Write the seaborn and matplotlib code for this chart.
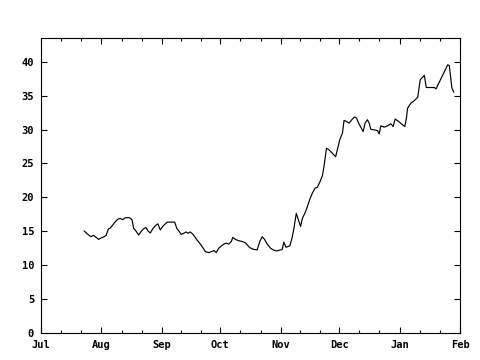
import numpy as np
import pandas as pd
import matplotlib
matplotlib.use("Agg")
import matplotlib.pyplot as plt
import seaborn as sns

# days since Jul 1 and values
days = [22.1, 23.8, 25.6, 26.9, 28.3, 29.5, 30.7, 32.4, 33.4, 34.6, 35.5, 36.7,
        38.1, 39.5, 40.6, 42.0, 43.2, 45.4, 46.7, 47.5, 48.7, 50.1, 51.3, 52.6,
        53.9, 54.9, 56.1, 57.3, 58.6, 60.0, 61.2, 62.4, 63.8, 64.7, 68.6, 69.8,
        70.6, 71.9, 73.2, 74.4, 75.5, 76.6, 77.8, 78.9, 80.1, 81.8, 83.2, 84.4,
        86.1, 87.4, 88.8, 89.9, 91.2, 92.6, 93.8, 95.0, 96.3, 97.7, 98.4, 99.8,
        101.5, 103.2, 104.9, 105.8, 107.1, 108.9, 110.9, 112.3, 113.5, 114.7,
        116.1, 117.8, 119.2, 120.9, 122.9, 123.8, 124.6, 125.7, 126.7, 127.7,
        128.8, 129.8, 131.0, 132.4, 133.2, 134.1, 135.4, 136.7, 137.9, 139.2,
        140.6, 141.8, 143.0, 144.4, 145.2, 146.5, 147.8, 149.5, 151.2, 152.1,
        153.3, 154.7, 155.5, 156.7, 158.1, 159.5, 160.8, 161.9, 162.9, 164.1,
        165.3, 166.3, 167.5, 168.4, 169.2, 170.9, 172.7, 173.5, 174.4, 176.1,
        177.8, 179.5, 180.7, 181.7, 183.5, 185.5, 186.7, 187.6, 188.1, 189.8,
        191.5, 193.3, 194.6, 196.7, 197.7, 201.8, 202.7, 208.7, 209.5, 210.8,
        211.8]
values = [15.05, 14.6, 14.2, 14.4, 14.1, 13.8, 14.0, 14.2, 14.4, 15.35, 15.45, 15.9,
          16.4, 16.8, 16.9, 16.7, 17.0, 17.0, 16.7, 15.45, 15.05, 14.45, 14.95, 15.35,
          15.55, 15.05, 14.75, 15.35, 15.8, 16.1, 15.2, 15.7, 16.1, 16.35, 16.35, 15.35,
          15.1, 14.55, 14.7, 14.9, 14.7, 14.9, 14.6, 14.2, 13.7, 13.1, 12.5, 12.0,
          11.85, 12.0, 12.15, 11.85, 12.5, 12.85, 13.1, 13.25, 13.1, 13.5, 14.1, 13.8,
          13.6, 13.5, 13.3, 13.0, 12.6, 12.35, 12.25, 13.5, 14.2, 13.8,
          13.1, 12.5, 12.25, 12.1, 12.25, 12.35, 13.4, 12.65, 12.75, 12.85,
          14.0, 15.45, 17.65, 16.4, 15.7, 16.9, 17.65, 18.65, 19.7, 20.6,
          21.35, 21.5, 22.2, 23.2, 24.55, 27.25, 27.0, 26.5, 26.0, 27.1,
          28.5, 29.5, 31.35, 31.2, 30.95, 31.45, 31.85, 31.7, 31.0, 30.35,
          29.7, 30.95, 31.45, 30.95, 30.05, 29.95, 29.85, 29.35, 30.55, 30.35,
          30.55, 30.85, 30.45, 31.55, 31.2, 30.7, 30.45, 31.9, 33.15, 33.9,
          34.25, 34.75, 37.35, 38.0, 36.2, 36.2, 36.0, 39.55, 39.45, 36.2,
          35.5]

month_labels = ["Jul", "Aug", "Sep", "Oct", "Nov", "Dec", "Jan", "Feb"]
y_ticks = [0, 5, 10, 15, 20, 25, 30, 35, 40]

start = pd.Timestamp("2006-07-01")
dates = start + pd.to_timedelta(np.array(days), unit="D")
df = pd.DataFrame({"date": dates, "value": values})

sns.set_style("ticks")
plt.rcParams["font.family"] = ["DejaVu Sans Mono", "DejaVu Sans"]

fig = plt.figure(figsize=(4.8, 3.6), dpi=100)
ax = fig.add_axes([41 / 480, 27 / 360, 419 / 480, 295 / 360])

sns.lineplot(data=df, x="date", y="value", color="black", linewidth=0.85, ax=ax)

month_starts = pd.date_range(start, periods=len(month_labels), freq="MS")
ax.set_xlim(month_starts[0], month_starts[-1])
ax.set_ylim(0, 43.5)

ax.set_xticks(month_starts)
ax.set_xticklabels(month_labels)
minor = []
for a, b in zip(month_starts[:-1], month_starts[1:]):
    minor += [a + (b - a) / 3, a + 2 * (b - a) / 3]
ax.set_xticks(minor, minor=True)
ax.set_yticks(y_ticks)
ax.set_yticklabels([str(v) for v in y_ticks])

ax.tick_params(which="major", direction="in", length=4, width=0.8,
               top=True, right=True, color="black")
ax.tick_params(which="minor", direction="in", length=2, width=0.8,
               top=True, bottom=True, color="black")
ax.tick_params(axis="y", which="minor", left=False, right=False)
ax.tick_params(axis="x", pad=5)
ax.tick_params(axis="y", pad=5)
for lab in ax.get_xticklabels() + ax.get_yticklabels():
    lab.set_fontsize(7.5)
    lab.set_fontweight("bold")
    lab.set_color("black")
for s in ax.spines.values():
    s.set_visible(True)
    s.set_color("black")
    s.set_linewidth(0.8)

ax.set_xlabel("")
ax.set_ylabel("")
ax.grid(False)

fig.savefig("out.png", dpi=100)
